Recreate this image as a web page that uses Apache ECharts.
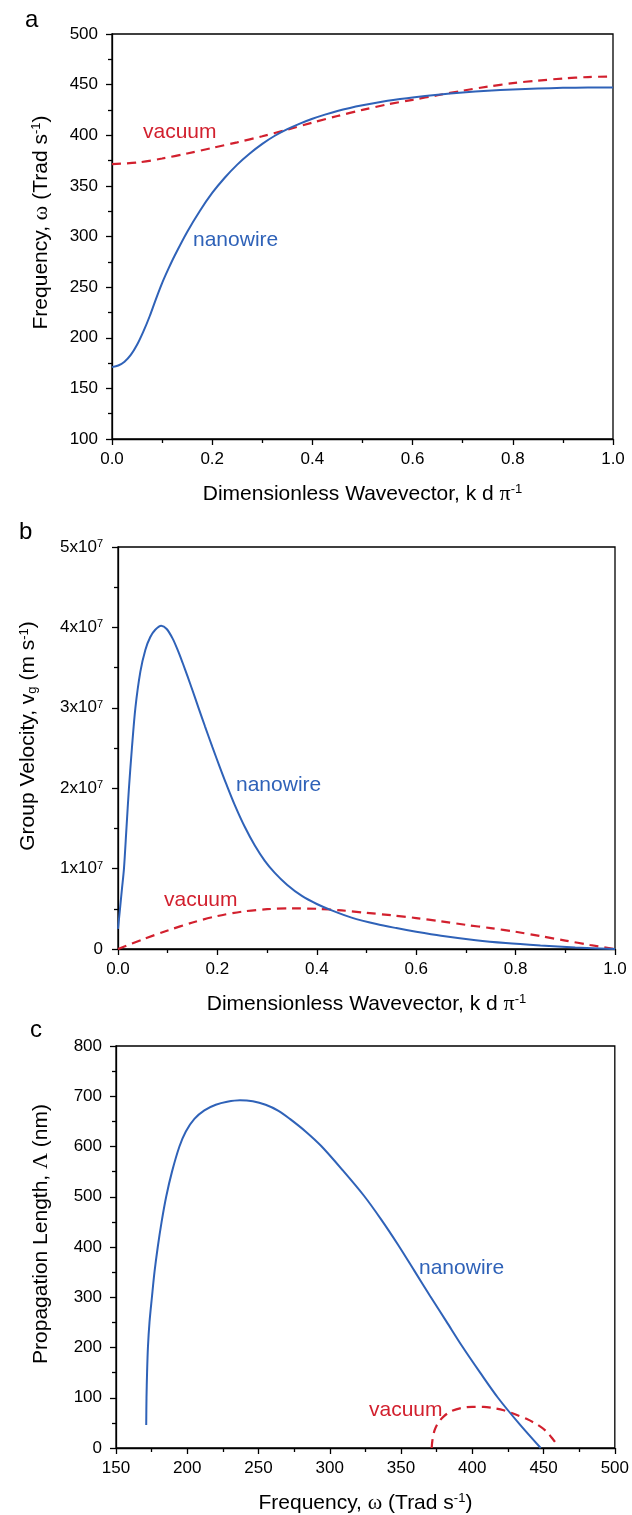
<!DOCTYPE html>
<html><head><meta charset="utf-8">
<script src="https://cdn.jsdelivr.net/npm/echarts@6/dist/echarts.min.js"></script>
<style>html,body{margin:0;padding:0;background:#fff}#c{width:632px;height:1515px}</style>
</head><body><div id="c"></div>
<script>
// ---- Panel a: dispersion ----
const aNanoK = [0,0.0125,0.025,0.0375,0.05,0.0625,0.075,0.0875,0.1,0.1125,0.125,0.15,0.175,0.2,0.225,0.25,0.275,0.3,0.325,0.35,0.375,0.4,0.425,0.45,0.475,0.5,0.525,0.55,0.575,0.6,0.65,0.7,0.75,0.8,0.85,0.9,0.95,1.0];
const aNanoW = [171,172.6,176.3,183,193,206,221,238,254,268,281,304.5,325,343,358,371,382,391.5,399.5,406,411.5,416.3,420.4,424,427,429.6,431.9,434,435.8,437.4,440.1,442.3,444,445.3,446.2,446.8,447.1,447.2];
const aVacK = [0,0.05,0.1,0.15,0.2,0.25,0.3,0.35,0.4,0.45,0.5,0.55,0.6,0.65,0.7,0.75,0.8,0.85,0.9,0.95,1.0];
const aVacW = [371.5,373,377,382,387.5,393,399,405.5,412.5,419,425,430.5,435,439.5,444,448,451.5,454,456,457.5,458];
// ---- Panel b: group velocity (m/s) ----
const bNanoK = [0,0.004,0.008,0.012,0.017,0.022,0.028,0.035,0.045,0.055,0.065,0.075,0.087,0.098,0.11,0.12,0.13,0.14,0.15,0.162,0.175,0.19,0.205,0.218,0.235,0.255,0.275,0.295,0.315,0.34,0.37,0.40,0.43,0.47,0.52,0.56,0.60,0.65,0.72,0.78,0.85,0.92,1.0];
const bNanoV = [0.25e7,0.5e7,0.75e7,1.0e7,1.5e7,2.0e7,2.5e7,3.0e7,3.45e7,3.72e7,3.88e7,3.97e7,4.02e7,3.98e7,3.86e7,3.72e7,3.56e7,3.39e7,3.215e7,3.0e7,2.77e7,2.51e7,2.26e7,2.05e7,1.79e7,1.52e7,1.29e7,1.10e7,0.95e7,0.80e7,0.66e7,0.56e7,0.48e7,0.39e7,0.31e7,0.26e7,0.215e7,0.165e7,0.11e7,0.075e7,0.045e7,0.02e7,0];
const bVacK = [0,0.05,0.1,0.15,0.2,0.25,0.3,0.35,0.4,0.45,0.5,0.55,0.6,0.65,0.7,0.75,0.8,0.85,0.9,0.95,1.0];
const bVacV = [0,0.12e7,0.23e7,0.33e7,0.41e7,0.465e7,0.495e7,0.505e7,0.5e7,0.48e7,0.45e7,0.42e7,0.385e7,0.345e7,0.30e7,0.26e7,0.215e7,0.16e7,0.105e7,0.05e7,0];
// ---- Panel c: propagation length (nm) ----
const cNanoW = [171.2,171.4,171.8,172.4,173.5,175.2,177.0,179.3,182.0,185.2,189.3,194.5,199,205,212,220,228,237,246,255,264,272,283,294,309,324,336,348,359.5,370.5,382,393,405.5,418,433,448];
const cNanoL = [46,100,150,200,250,300,350,400,450,500,550,600,630,655,672,683,689,692,690,683,671,655,630,601,553,502,455,404,352,302,251,202,150,100,48,0];
const cVacW = [371.5,372,373.5,376,380,385,392,400,408,415,422,430,438,446,452,457,458];
const cVacL = [0,15,35,50,63,73,79.5,82,82,79.5,75,67,58,46,33,16,12];

const F = 'Liberation Sans, Arial, sans-serif';
const SERIF = 'Liberation Serif, serif';
const BLUE = '#2f62b8', RED = '#d2202e';
const zip = (a, b) => a.map((v, i) => [v, b[i]]);

const richTitle = {
  g: {fontFamily: SERIF, fontSize: 22, color: '#000'},
  sup: {fontFamily: F, fontSize: 13, color: '#000', verticalAlign: 'top'},
  sub: {fontFamily: F, fontSize: 13, color: '#000', verticalAlign: 'bottom'}
};
function axisBase(grid, min, max, interval, name, gap, labelMargin, fmt, rich, pad) {
  return {
    type: 'value', gridIndex: grid, min, max, interval,
    name, nameLocation: 'middle', nameGap: gap,
    nameTextStyle: {fontFamily: F, fontSize: 21, color: '#000', rich: richTitle, padding: pad || 0},
    axisLine: {show: true, onZero: false, lineStyle: {color: '#000', width: 1.3}},
    axisTick: {show: true, inside: false, length: 6, lineStyle: {color: '#000', width: 1.3}},
    minorTick: {show: true, splitNumber: 2, length: 4, lineStyle: {color: '#000', width: 1.3}},
    splitLine: {show: false}, minorSplitLine: {show: false},
    axisLabel: {fontFamily: F, fontSize: 17, color: '#000', margin: labelMargin, formatter: fmt, rich: rich || {}}
  };
}
const f1 = v => v.toFixed(1);
const fi = v => String(Math.round(v));
const fsci = v => v === 0 ? '0' : '{b|' + Math.round(v / 1e7) + 'x10}{s|7}';
const sciRich = {b: {fontFamily: F, fontSize: 17, color: '#000'}, s: {fontFamily: F, fontSize: 11, color: '#000', verticalAlign: 'top'}};

const grids = [
  {left: 112, top: 34, width: 501, height: 405},
  {left: 118, top: 547, width: 497, height: 402},
  {left: 116, top: 1046, width: 501, height: 404}
].map(g => Object.assign(g, {show: true, borderColor: '#000', borderWidth: 1.3, backgroundColor: 'transparent'}));

const lineOpts = {showSymbol: false, smooth: 0.3};
const option = {
  animation: false,
  backgroundColor: '#fff',
  grid: grids,
  xAxis: [
    axisBase(0, 0, 1, 0.2, 'Dimensionless Wavevector, k d {g|π}{sup|-1}', 44, 12, f1),
    axisBase(1, 0, 1, 0.2, 'Dimensionless Wavevector, k d {g|π}{sup|-1}', 44, 12, f1),
    axisBase(2, 150, 500, 50, 'Frequency, {g|ω} (Trad s{sup|-1})', 44, 12, fi)
  ],
  yAxis: [
    axisBase(0, 100, 500, 50, 'Frequency, {g|ω} (Trad s{sup|-1})', 60, 14, fi, null, [0, 0, 0, 28]),
    axisBase(1, 0, 5e7, 1e7, 'Group Velocity, v{sub|g} (m s{sup|-1})', 79, 15, fsci, sciRich, [0, 0, 0, 24]),
    axisBase(2, 0, 800, 100, 'Propagation Length, {g|Λ} (nm)', 64, 14, fi, null, [0, 0, 0, 26])
  ],
  series: [
    Object.assign({type: 'line', xAxisIndex: 0, yAxisIndex: 0, data: zip(aVacK, aVacW), lineStyle: {color: RED, width: 2.2, type: [9, 6]}}, lineOpts),
    Object.assign({type: 'line', xAxisIndex: 0, yAxisIndex: 0, data: zip(aNanoK, aNanoW), lineStyle: {color: BLUE, width: 2}}, lineOpts),
    Object.assign({type: 'line', xAxisIndex: 1, yAxisIndex: 1, data: zip(bVacK, bVacV), lineStyle: {color: RED, width: 2.2, type: [9, 6]}}, lineOpts),
    Object.assign({type: 'line', xAxisIndex: 1, yAxisIndex: 1, data: zip(bNanoK, bNanoV), lineStyle: {color: BLUE, width: 2}}, lineOpts),
    Object.assign({type: 'line', xAxisIndex: 2, yAxisIndex: 2, data: zip(cVacW, cVacL), lineStyle: {color: RED, width: 2.2, type: [9, 6]}}, lineOpts),
    Object.assign({type: 'line', xAxisIndex: 2, yAxisIndex: 2, data: zip(cNanoW, cNanoL), lineStyle: {color: BLUE, width: 2}}, lineOpts)
  ],
  graphic: [
    {type: 'text', left: 25, top: 8, style: {text: 'a', font: '24px ' + F, fill: '#000'}},
    {type: 'text', left: 19, top: 520, style: {text: 'b', font: '24px ' + F, fill: '#000'}},
    {type: 'text', left: 30, top: 1018, style: {text: 'c', font: '24px ' + F, fill: '#000'}},
    {type: 'text', x: 143, y: 132, style: {text: 'vacuum', font: '21px ' + F, fill: RED, verticalAlign: 'middle'}},
    {type: 'text', x: 193, y: 240, style: {text: 'nanowire', font: '21px ' + F, fill: BLUE, verticalAlign: 'middle'}},
    {type: 'text', x: 236, y: 785, style: {text: 'nanowire', font: '21px ' + F, fill: BLUE, verticalAlign: 'middle'}},
    {type: 'text', x: 164, y: 900, style: {text: 'vacuum', font: '21px ' + F, fill: RED, verticalAlign: 'middle'}},
    {type: 'text', x: 419, y: 1268, style: {text: 'nanowire', font: '21px ' + F, fill: BLUE, verticalAlign: 'middle'}},
    {type: 'text', x: 369, y: 1410, style: {text: 'vacuum', font: '21px ' + F, fill: RED, verticalAlign: 'middle'}}
  ]
};
const chart = echarts.init(document.getElementById('c'), null, {renderer: 'canvas'});
chart.setOption(option);
</script></body></html>
